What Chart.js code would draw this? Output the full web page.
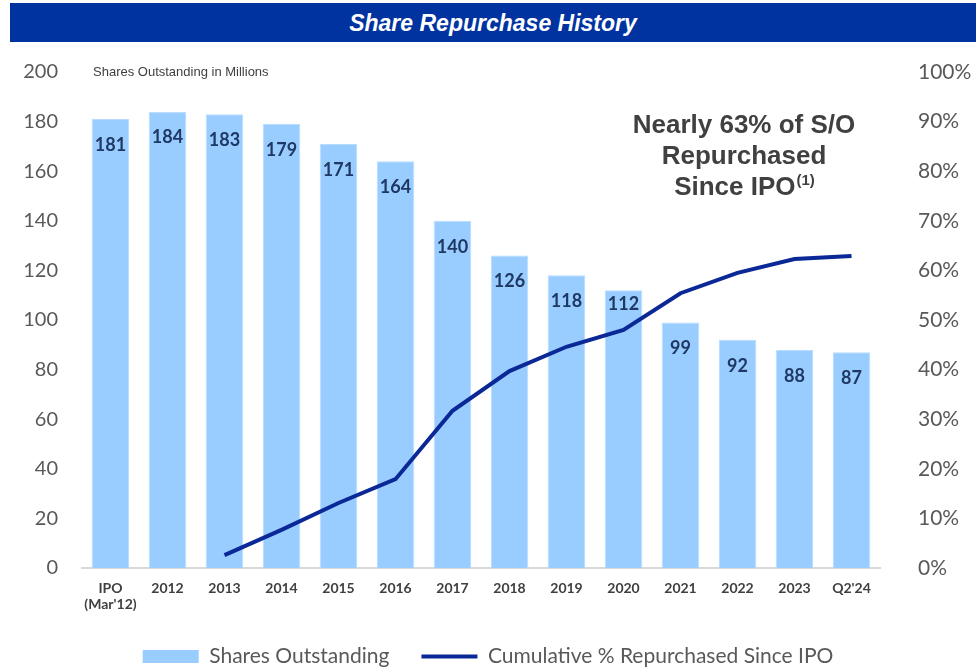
<!DOCTYPE html>
<html>
<head>
<meta charset="utf-8">
<script src="https://cdn.jsdelivr.net/npm/chart.js@4.4.1/dist/chart.umd.min.js"></script>
<style>
    html, body { margin: 0; padding: 0; background: #fff; }
    #wrap { position: relative; width: 976px; height: 668px; overflow: hidden; }
    #banner {
        position: absolute; left: 10px; top: 3px; width: 966px; height: 39px;
        background: #0033a0; color: #fff;
        font: italic bold 23px 'Liberation Sans', Arial, sans-serif;
        text-align: center; line-height: 41px;
    }
    canvas { position: absolute; left: 0; top: 0; }
</style>
</head>
<body>
<div id="wrap">
    <canvas id="chart" width="976" height="668"></canvas>
    <div id="banner">Share Repurchase History</div>
</div>
<script>
// ─── DONNÉES ──────────────────────────────────────────────────────────────
const categories = [['IPO', "(Mar'12)"], '2012', '2013', '2014', '2015', '2016', '2017',
    '2018', '2019', '2020', '2021', '2022', '2023', "Q2'24"];
const sharesOutstanding = [181, 184, 183, 179, 171, 164, 140, 126, 118, 112, 99, 92, 88, 87];
const cumulativePct = [null, null, 2.6, 7.7, 13.1, 17.9, 31.7, 39.7, 44.6, 48.0, 55.4, 59.5, 62.3, 62.9];
const leftTicks = { min: 0, max: 200, step: 20 };
const rightTicks = { min: 0, max: 100, step: 10 };

const BAR_COLOR = '#99ccff';
const LINE_COLOR = '#0a2896';
const GREY = '#595959';

Chart.defaults.font.family = "Lato, 'Open Sans', sans-serif";

// étiquettes dans le haut des barres (remontées si la courbe passe juste dessous)
const barLabels = {
    id: 'barLabels',
    afterDatasetsDraw(chart) {
        const bars = chart.getDatasetMeta(0).data;
        const pts = chart.getDatasetMeta(1).data;
        const c = chart.ctx;
        c.save();
        c.font = "bold 18px Lato, sans-serif";
        c.fillStyle = '#1f3864';
        c.textAlign = 'center';
        c.textBaseline = 'middle';
        bars.forEach((bar, i) => {
            let y = bar.y + 26;
            const p = pts[i];
            if (cumulativePct[i] != null && p && p.y > y && p.y - y < 20) y = bar.y + 14;
            c.fillText(String(sharesOutstanding[i]), bar.x, y);
        });
        c.restore();
    }
};

// sous-titre et encadré de texte
const notes = {
    id: 'notes',
    afterDraw(chart) {
        const c = chart.ctx;
        c.save();
        c.fillStyle = '#404040';
        c.textBaseline = 'middle';
        c.font = "13px 'Liberation Sans', Arial, sans-serif";
        c.textAlign = 'left';
        c.fillText('Shares Outstanding in Millions', 93, 72);

        const big = "bold 26px 'Liberation Sans', Arial, sans-serif";
        c.font = big;
        c.textAlign = 'center';
        const cx = 744;
        c.fillText('Nearly 63% of S/O', cx, 126);
        c.fillText('Repurchased', cx, 157);
        const main = 'Since IPO';
        const sup = '(1)';
        const wMain = c.measureText(main).width;
        c.font = "bold 15px 'Liberation Sans', Arial, sans-serif";
        const wSup = c.measureText(sup).width;
        const x0 = cx - (wMain + wSup) / 2;
        c.textAlign = 'left';
        c.fillText(sup, x0 + wMain + 1, 181);
        c.font = big;
        c.fillText(main, x0, 188);
        c.restore();
    }
};

const chart = new Chart(document.getElementById('chart'), {
    type: 'bar',
    data: {
        labels: categories,
        datasets: [{
            label: 'Shares Outstanding',
            data: sharesOutstanding,
            backgroundColor: BAR_COLOR,
            borderColor: '#b8dcff',
            borderWidth: 1,
            barPercentage: 0.66,
            categoryPercentage: 1,
            yAxisID: 'y',
            order: 2
        }, {
            type: 'line',
            label: 'Cumulative % Repurchased Since IPO',
            data: cumulativePct,
            borderColor: LINE_COLOR,
            borderWidth: 4,
            pointRadius: 0,
            tension: 0,
            yAxisID: 'y2',
            order: 1
        }]
    },
    options: {
        responsive: false,
        animation: false,
        layout: { padding: { top: 72, left: 0, right: 0, bottom: -9 } },
        scales: {
            x: {
                grid: { display: false, drawTicks: false },
                border: { display: true, color: '#d9d9d9', width: 2 },
                ticks: {
                    color: '#404040', padding: 12, maxRotation: 0, autoSkip: false,
                    font: { size: 14, weight: 'bold', lineHeight: 1.15 },
                    callback: (v, i) => categories[i]
                },
                afterFit: s => { s.height = 46; }
            },
            y: {
                position: 'left',
                min: leftTicks.min, max: leftTicks.max,
                grid: { display: false, drawTicks: false },
                border: { display: false },
                ticks: { stepSize: leftTicks.step, color: GREY, padding: 24, font: { size: 20 } },
                afterFit: s => { s.width = 82; }
            },
            y2: {
                position: 'right',
                min: rightTicks.min, max: rightTicks.max,
                grid: { display: false, drawTicks: false },
                border: { display: false },
                ticks: { stepSize: rightTicks.step, color: GREY, padding: 38, font: { size: 21 },
                    callback: v => v + '%' },
                afterFit: s => { s.width = 96; }
            }
        },
        plugins: {
            tooltip: { enabled: false },
            legend: {
                position: 'bottom',
                labels: {
                    color: GREY,
                    font: { size: 21 },
                    padding: 32,
                    usePointStyle: true,
                    pointStyleWidth: 56,
                    boxHeight: 13,
                    generateLabels: ch => ch.data.datasets.map((ds, i) => ({
                        text: ds.label,
                        datasetIndex: i,
                        hidden: false,
                        fontColor: GREY,
                        pointStyle: ds.type === 'line' ? 'line' : 'rect',
                        fillStyle: ds.type === 'line' ? LINE_COLOR : BAR_COLOR,
                        strokeStyle: ds.type === 'line' ? LINE_COLOR : BAR_COLOR,
                        lineWidth: ds.type === 'line' ? 4 : 0
                    }))
                }
            }
        }
    },
    plugins: [barLabels, notes]
});
</script>
</body>
</html>
